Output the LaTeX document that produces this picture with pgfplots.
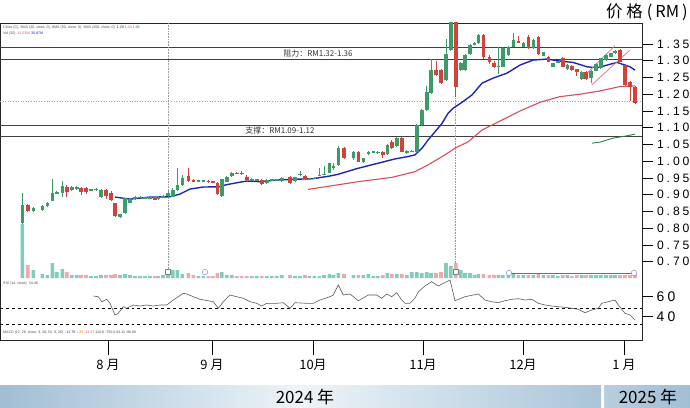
\documentclass[border=0pt]{standalone}
\usepackage{fontspec}
\setmainfont{Liberation Sans}
\newfontfamily\cjk{Noto Sans CJK SC}
\newfontfamily\tickf[LetterSpace=24]{Liberation Sans}
\usepackage{pgfplots}
\usepackage{pgfplotstable}
\pgfplotsset{compat=1.18}

\definecolor{upc}{RGB}{60,155,105}
\definecolor{dnc}{RGB}{210,65,58}
\definecolor{volup}{RGB}{128,205,188}
\definecolor{voldn}{RGB}{240,168,172}
\definecolor{ma1}{RGB}{28,38,185}
\definecolor{ma2}{RGB}{226,72,88}
\definecolor{ma3}{RGB}{40,130,60}
\definecolor{chan}{RGB}{235,120,130}
\definecolor{bandA}{RGB}{160,190,212}
\definecolor{bandB}{RGB}{238,244,248}

\pgfplotstableread{
x o h l c v
22.3 0.815 0.904 0.812 0.869 54
33.3 0.852 0.863 0.850 0.860 8
42.3 0.854 0.868 0.852 0.866 4
47.3 0.866 0.878 0.864 0.876 3
52.3 0.882 0.946 0.880 0.906 15
56.7 0.904 0.912 0.902 0.909 6
62.3 0.906 0.942 0.892 0.926 9
71.7 0.914 0.926 0.912 0.924 3
76.7 0.920 0.925 0.915 0.922 3
91 0.914 0.918 0.911 0.916 2
96 0.916 0.920 0.910 0.918 2
101 0.894 0.916 0.890 0.914 3
120 0.835 0.844 0.832 0.842 3
125 0.845 0.891 0.843 0.889 4
130 0.876 0.888 0.874 0.886 3
135 0.886 0.896 0.884 0.894 2
140 0.891 0.896 0.889 0.894 2
145 0.891 0.894 0.889 0.892 2
150 0.890 0.893 0.888 0.891 2
158 0.887 0.897 0.885 0.894 2
163 0.892 0.899 0.890 0.897 3
168 0.896 0.910 0.894 0.905 8
172.7 0.894 0.920 0.892 0.914 8
177.3 0.914 0.979 0.912 0.929 8
182.3 0.929 0.960 0.927 0.949 4
198.3 0.940 0.944 0.938 0.942 2
203.3 0.940 0.944 0.938 0.942 2
221.7 0.896 0.948 0.894 0.946 6
226.7 0.939 0.955 0.937 0.952 3
231.7 0.956 0.968 0.954 0.966 3
251.7 0.943 0.950 0.940 0.945 2
256.7 0.943 0.948 0.940 0.945 2
266.7 0.935 0.948 0.933 0.945 2
271.7 0.944 0.948 0.942 0.946 2
276.7 0.944 0.948 0.942 0.946 2
281.7 0.940 0.952 0.938 0.950 3
295 0.940 0.954 0.938 0.952 2
300 0.960 0.970 0.956 0.962 2
309.3 0.946 0.950 0.943 0.948 2
314.3 0.948 0.953 0.946 0.950 2
319.3 0.957 0.979 0.955 0.960 2
324 0.960 0.985 0.958 0.963 3
329.3 0.966 0.996 0.964 0.994 4
333.5 0.982 0.995 0.975 0.985 3
338.3 0.989 1.045 0.987 1.039 5
353.3 1.009 1.031 1.005 1.029 3
363.3 0.999 1.011 0.995 1.009 3
368.3 1.021 1.031 1.019 1.029 4
373.3 1.027 1.031 1.024 1.029 2
377.7 1.026 1.030 1.023 1.028 2
387.3 1.021 1.052 1.019 1.049 5
396.7 1.046 1.072 1.044 1.069 4
406.7 1.027 1.035 1.022 1.030 3
411.7 1.029 1.034 1.027 1.032 6
416.7 1.029 1.111 1.027 1.108 6
421.7 1.108 1.156 1.106 1.153 5
426.7 1.153 1.225 1.151 1.206 6
431 1.203 1.306 1.201 1.272 5
446 1.243 1.365 1.241 1.319 15
450.7 1.332 1.450 1.330 1.430 12
460.7 1.272 1.295 1.270 1.292 8
465 1.272 1.320 1.270 1.317 5
470 1.319 1.349 1.317 1.347 5
474.3 1.350 1.356 1.346 1.352 3
478.3 1.352 1.380 1.350 1.377 4
498.3 1.282 1.340 1.260 1.285 3
502.7 1.282 1.340 1.280 1.337 3
508.3 1.317 1.345 1.315 1.342 3
513.3 1.342 1.382 1.340 1.362 4
523.3 1.342 1.355 1.340 1.352 3
533.3 1.337 1.365 1.335 1.362 3
543.3 1.315 1.327 1.313 1.325 3
552.7 1.282 1.294 1.280 1.292 3
557.7 1.296 1.300 1.292 1.298 2
567.3 1.274 1.289 1.272 1.287 3
581.7 1.246 1.268 1.244 1.266 3
591 1.250 1.272 1.235 1.270 3
596 1.270 1.292 1.268 1.290 3
600.7 1.277 1.309 1.275 1.307 3
606 1.302 1.319 1.300 1.317 3
610.7 1.312 1.324 1.310 1.322 3
615 1.322 1.331 1.320 1.329 3
}\up

\pgfplotstableread{
x o h l c v
27.7 0.869 0.872 0.850 0.852 13
66.7 0.924 0.928 0.892 0.907 6
81 0.919 0.922 0.899 0.909 3
86 0.920 0.924 0.902 0.908 3
106 0.914 0.918 0.886 0.897 3
111 0.906 0.910 0.882 0.884 3
115 0.874 0.876 0.835 0.837 4
155 0.889 0.891 0.884 0.886 2
188.3 0.956 0.979 0.939 0.941 5
193.3 0.942 0.946 0.938 0.940 3
208.3 0.941 0.945 0.936 0.939 2
212.7 0.939 0.942 0.936 0.937 2
217.3 0.934 0.938 0.900 0.902 5
236.7 0.965 0.968 0.961 0.963 2
241.7 0.965 0.970 0.958 0.963 2
246.7 0.954 0.958 0.942 0.944 2
261.7 0.944 0.947 0.930 0.932 2
290 0.952 0.955 0.932 0.934 3
305 0.956 0.959 0.944 0.946 3
344 1.039 1.042 1.007 1.009 4
358.3 1.029 1.032 0.997 0.999 3
382.7 1.029 1.032 1.010 1.019 3
391.7 1.058 1.062 1.038 1.040 4
401.7 1.069 1.072 1.027 1.029 4
436 1.272 1.300 1.255 1.257 5
441 1.272 1.275 1.231 1.233 6
455.7 1.430 1.450 1.193 1.223 15
483.3 1.377 1.380 1.305 1.310 4
489.3 1.312 1.318 1.290 1.297 3
494 1.294 1.298 1.278 1.280 3
518.3 1.358 1.375 1.352 1.355 3
528.3 1.372 1.378 1.335 1.337 3
538.3 1.372 1.375 1.317 1.319 4
548.3 1.312 1.315 1.295 1.297 3
562.7 1.307 1.310 1.280 1.282 3
571.7 1.284 1.287 1.270 1.272 2
576.7 1.274 1.276 1.255 1.266 3
586 1.266 1.268 1.244 1.246 3
620 1.332 1.335 1.295 1.297 3
625 1.287 1.290 1.226 1.228 3
630 1.237 1.240 1.180 1.223 3
635 1.223 1.226 1.171 1.173 5
}\dn

\begin{document}
\begin{tikzpicture}
\useasboundingbox (0bp,23bp) rectangle (690bp,-385bp);
\pgfplotsset{base/.style={scale only axis, width=642bp, height=317bp,
  xmin=0, xmax=642, at={(0bp,0bp)}, anchor=north west,
  /pgf/number format/assume math mode=true}}

% ---------- price panel ----------
\begin{axis}[base, ymin=0.46642, ymax=1.41269,
  axis line style={draw=black!85, line width=0.9pt},
  xtick=\empty,
  ytick={0.70,0.75,0.80,0.85,0.90,0.95,1.00,1.05,1.10,1.15,1.20,1.25,1.30,1.35},
  ytick pos=right, tick align=outside, major tick length=11bp,
  ytick style={black, line width=0.8pt},
  yticklabel style={font=\tickf\fontsize{12.2}{12}\selectfont, xshift=0.5bp,
    /pgf/number format/fixed, /pgf/number format/fixed zerofill,
    /pgf/number format/precision=2}]
% resistance / support
\addplot[black!75, line width=0.8pt] coordinates {(0,1.341) (642,1.341)};
\addplot[black!75, line width=0.8pt] coordinates {(0,1.305) (642,1.305)};
\addplot[black!75, line width=0.8pt] coordinates {(0,1.108) (642,1.108)};
\addplot[black!75, line width=0.8pt] coordinates {(0,1.075) (642,1.075)};
\addplot[black!35, dotted, line width=0.6pt] coordinates {(0,1.178) (642,1.178)};
\addplot[black!40, densely dotted, line width=0.6pt] coordinates {(168,1.4127) (168,0.675)};
\addplot[black!40, densely dotted, line width=0.6pt] coordinates {(455.7,1.4127) (455.7,0.675)};
% moving averages
\addplot[ma1, line width=1.4pt] coordinates {
(115,0.893) (130,0.887) (150,0.893) (170,0.894) (180,0.902) (190,0.917) (203,0.923)
(220,0.924) (225,0.929) (237,0.936) (247,0.941) (260,0.939) (277,0.944) (293,0.946)
(313,0.948) (330,0.956) (338,0.961) (358,0.979) (378,0.994) (395,1.007) (408,1.014)
(415,1.019) (422,1.039) (428,1.063) (435,1.088) (442,1.113) (448,1.143) (453,1.158)
(462,1.176) (472,1.198) (482,1.233) (493,1.248) (507,1.263) (520,1.287) (533,1.302)
(547,1.305) (560,1.299) (573,1.295) (587,1.282) (597,1.279) (607,1.287) (617,1.295)
(623,1.289) (630,1.282) (635,1.272)};
\addplot[ma2, line width=1.1pt] coordinates {
(308,0.916) (330,0.926) (358,0.939) (392,0.952) (415,0.969) (428,0.989) (445,1.019)
(455,1.039) (468,1.058) (482,1.093) (500,1.120) (520,1.150) (540,1.176) (560,1.193)
(580,1.200) (600,1.210) (620,1.223) (635,1.225)};
\addplot[ma3, line width=0.9pt] coordinates {
(592,1.054) (600,1.057) (613,1.069) (627,1.076) (635,1.081)};
% channel lines
\addplot[chan, line width=0.8pt] coordinates {(583.3,1.252) (615,1.345)};
\addplot[chan, line width=0.8pt] coordinates {(591.7,1.228) (630,1.332)};
% candles: wicks
\addplot[draw=none, forget plot, error bars/.cd, y dir=both, y explicit, error mark=none,
  error bar style={line width=0.6pt, draw=upc}]
  table[x=x, y expr={(\thisrow{h}+\thisrow{l})/2}, y error expr={(\thisrow{h}-\thisrow{l})/2}] {\up};
\addplot[draw=none, forget plot, error bars/.cd, y dir=both, y explicit, error mark=none,
  error bar style={line width=0.6pt, draw=dnc}]
  table[x=x, y expr={(\thisrow{h}+\thisrow{l})/2}, y error expr={(\thisrow{h}-\thisrow{l})/2}] {\dn};
% candles: bodies
\addplot[draw=none, forget plot, error bars/.cd, y dir=both, y explicit, error mark=none,
  error bar style={line width=3.6bp, draw=upc}]
  table[x=x, y expr={(\thisrow{o}+\thisrow{c})/2}, y error expr={max(abs(\thisrow{c}-\thisrow{o})/2,0.0016)}] {\up};
\addplot[draw=none, forget plot, error bars/.cd, y dir=both, y explicit, error mark=none,
  error bar style={line width=3.6bp, draw=dnc}]
  table[x=x, y expr={(\thisrow{o}+\thisrow{c})/2}, y error expr={max(abs(\thisrow{c}-\thisrow{o})/2,0.0016)}] {\dn};
% annotations
\node[font=\cjk\fontsize{8}{8}\selectfont, text=black!80] at (axis cs:318,1.322) {阻力：RM1.32-1.36};
\node[font=\cjk\fontsize{8}{8}\selectfont, text=black!80] at (axis cs:280,1.091) {支撑：RM1.09-1.12};
\end{axis}

% ---------- volume panel + month ticks ----------
\begin{axis}[base, ymin=-62, ymax=255, axis line style={draw=none}, ytick=\empty,
  xtick={108,212,313,423,523,624},
  xticklabels={8 月,9 月,10月,11月,12月,1 月},
  xtick pos=bottom, tick align=outside, major tick length=15bp,
  xtick style={black, line width=0.8pt},
  xticklabel style={font=\cjk\fontsize{13}{13}\selectfont, yshift=-1bp}]
\addplot[ybar, bar width=3.6, bar shift=0pt, fill=volup, draw=none] table[x=x, y=v] {\up};
\addplot[ybar, bar width=3.6, bar shift=0pt, fill=voldn, draw=none] table[x=x, y=v] {\dn};
\addplot[ma1!70, line width=0.6pt] coordinates {(509,5) (634,5)};
\addplot[only marks, mark=square*, mark size=2.6bp, mark options={fill=white, draw=black!50}] coordinates {(168,6) (455.7,6)};
\addplot[only marks, mark=*, mark size=2.8bp, mark options={fill=white, draw=ma1!60}] coordinates {(205,6) (509,5) (634,5)};
\end{axis}

% ---------- RSI panel ----------
\begin{axis}[base, ymin=16.7, ymax=333.7, axis line style={draw=none}, xtick=\empty,
  ytick={40,60}, ytick pos=right, tick align=outside, major tick length=11bp,
  ytick style={black, line width=0.8pt},
  yticklabel style={font=\tickf\fontsize{14}{14}\selectfont}]
\addplot[black, dashed, line width=0.5pt] coordinates {(0,48.7) (642,48.7)};
\addplot[black, dashed, line width=0.5pt] coordinates {(0,32.7) (642,32.7)};
\addplot[black!65, line width=0.6pt] coordinates {
(93.3,60.7) (98.3,60) (101.7,55) (106.7,57.4) (110,53.4) (115,41.7) (118.3,43.4)
(123.3,50) (126.7,48.4) (133.3,51.7) (140,50.7) (146.7,51.7) (153.3,50.7) (160,51.7)
(166.7,51.7) (173.3,56.7) (183.3,63.4) (186.7,62.7) (193.3,60) (200,57.4) (213.3,55)
(218.3,48.4) (223.3,55) (230,61.7) (236.7,60) (243.3,58.4) (250,55) (256.7,53.4)
(261.7,50.7) (266.7,53.4) (276.7,53.4) (283.3,54) (290,48.4) (295,54) (306.7,53.4)
(313.3,53.4) (320,56.7) (330,60) (333.3,61.7) (338.3,71.7) (343.3,61.7) (350,62.7)
(358.3,56) (368.3,61.7) (376.7,61.7) (381.7,58.4) (386.7,62.7) (391.7,60) (396.7,64)
(401.7,56.7) (405,53.4) (410,53.4) (415,58.4) (418.3,65) (425,70.7) (431.7,75)
(438.3,70.7) (443.3,73.4) (450,76.7) (455,56) (465,60) (478.3,62.7) (485,56.7)
(491.7,55) (498.3,54) (505,56) (511.7,57.4) (518.3,58) (525,56.7) (531.7,57.4)
(538.3,53.4) (545,51.7) (551.7,50.7) (558.3,50) (565,49.4) (571.7,48.4) (578.3,47.4)
(585,44) (591.7,46.7) (598.3,48.4) (601.7,53.4) (608.3,55) (615,56.7) (618.3,51.7)
(625,43.4) (630,41.7) (635,36.7)};
\end{axis}

% ---------- texts ----------
\node[anchor=west, font=\fontsize{3.6}{4}\selectfont, text=black!70, inner sep=0] at (3bp,-5bp)
  {Close (C), SMA (20, close, 0), SMA (50, close, 0), SMA (200, close, 0)\ \ \textcolor{ma1}{1.29}\ \textcolor{ma2}{1.24}\ \textcolor{ma3}{1.08}};
\node[anchor=west, font=\fontsize{3.6}{4}\selectfont, text=black!70, inner sep=0] at (3bp,-11bp)
  {Vol (20)\ \ \textcolor{ma2}{11.2356}\ \textcolor{ma1}{30.87M}};
\node[anchor=west, font=\fontsize{3.6}{4}\selectfont, text=black!70, inner sep=0] at (3bp,-261bp)
  {RSI (14, close)\ \ 34.48};
\node[anchor=west, font=\fontsize{3.6}{4}\selectfont, text=black!70, inner sep=0] at (3bp,-310bp)
  {MACD (12, 26, close, 9, 26, 52, 9, 26)\ \ \textcolor{ma1}{-11.78}\ \textcolor{orange}{1.86}\ \textcolor{ma2}{-13.57}\ 110.8\ -750.0\ 93.11\ -96.88};
\node[anchor=east, font=\cjk\fontsize{16.5}{16.5}\selectfont, inner sep=0] at (688bp,11bp) {价\hspace{4bp}格\hspace{4bp}(\hspace{3bp}RM\hspace{3bp})};

% bottom band
\shade[left color=bandA, right color=bandA!90!white, middle color=bandB] (0bp,-362bp) rectangle (601bp,-385bp);
\shade[left color=bandA!75!white, right color=bandA] (604bp,-362bp) rectangle (690bp,-385bp);
\node[font=\cjk\fontsize{17}{17}\selectfont, inner sep=0] at (305bp,-374bp) {2024 年};
\node[font=\cjk\fontsize{17}{17}\selectfont, inner sep=0] at (648bp,-374bp) {2025 年};
\end{tikzpicture}
\end{document}
